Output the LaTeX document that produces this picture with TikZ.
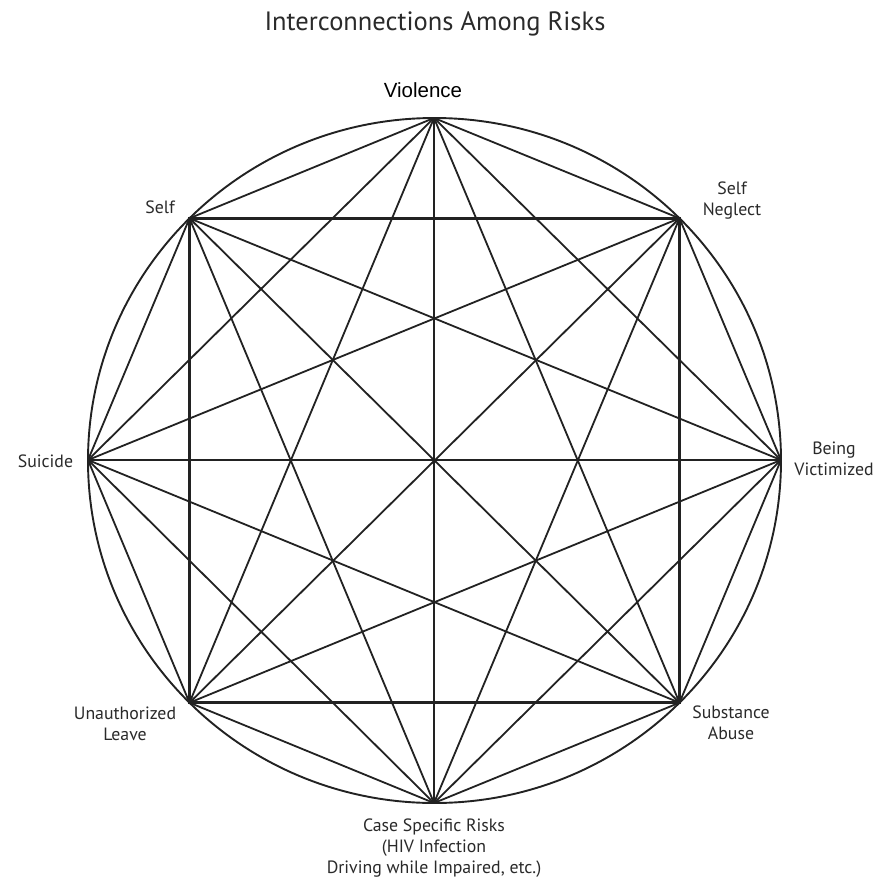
\documentclass[tikz,border=0pt]{standalone}
\usepackage{fontspec}
\setmainfont{PT Sans}
\newfontfamily\arialf{Liberation Sans}
\definecolor{linec}{HTML}{222222}
\definecolor{textc}{HTML}{2A2A2A}
\begin{document}
\begin{tikzpicture}[x=1pt,y=-1pt,
  chord/.style={line width=1.8pt, draw=linec},
  axis/.style={line width=1.9pt, draw=linec},
  sq/.style={line width=2.6pt, draw=linec},
  circ/.style={line width=1.9pt, draw=linec},
  lab/.style={font=\fontsize{17.8}{21}\selectfont, text=textc, align=center, inner sep=0pt},
  vlab/.style={font=\arialf\fontsize{20.5}{24}\selectfont, text=black, inner sep=0pt},
  ttl/.style={font=\fontsize{26.5}{30}\selectfont, text=textc, inner sep=0pt}]
\useasboundingbox (0,0) rectangle (875,878);
\fill[white] (0,0) rectangle (875,878);
% points on the ring
\coordinate (V)  at (434,118);
\coordinate (SN) at (679.5,218.3);
\coordinate (BV) at (781,460);
\coordinate (SA) at (679.5,702.7);
\coordinate (CS) at (434,803);
\coordinate (UL) at (189.5,702.7);
\coordinate (SU) at (88,460);
\coordinate (SE) at (189.5,218.3);
\coordinate (O) at (434.5,460.5);
\draw[circ] (O) ellipse [x radius=346.5pt, y radius=342.5pt];
\foreach \a/\b in {V/SN,V/BV,V/SA,V/UL,V/SU,V/SE,
                   SN/BV,SN/CS,SN/UL,SN/SU,
                   BV/SA,BV/CS,BV/UL,BV/SE,
                   SA/CS,SA/SU,SA/SE,
                   CS/UL,CS/SU,CS/SE,
                   UL/SU,SU/SE}
  \draw[chord] (\a) -- (\b);
\draw[axis] (V) -- (CS);
\draw[axis] (SU) -- (BV);
\draw[sq] (SE) -- (SN) -- (SA) -- (UL) -- cycle;
% labels
\node[ttl, anchor=base] (title) at (435,30) {Interconnections Among Risks};
\node[vlab, anchor=base] (lv) at (423,97) {Violence};
\node[lab] (lse) at (160,207) {Self};
\node[lab] (lsn) at (732,201) {Self\\Neglect};
\node[lab] (lsu) at (45.5,461) {Suicide};
\node[lab] (lbv) at (834,458.5) {Being\\Victimized};
\node[lab] (lul) at (125,724) {Unauthorized\\Leave};
\node[lab] (lsa) at (731,722.5) {Substance\\Abuse};
\node[lab] (lcs) at (434,848) {Case Specific Risks\\(HIV Infection\\Driving while Impaired, etc.)};
\end{tikzpicture}
\end{document}
